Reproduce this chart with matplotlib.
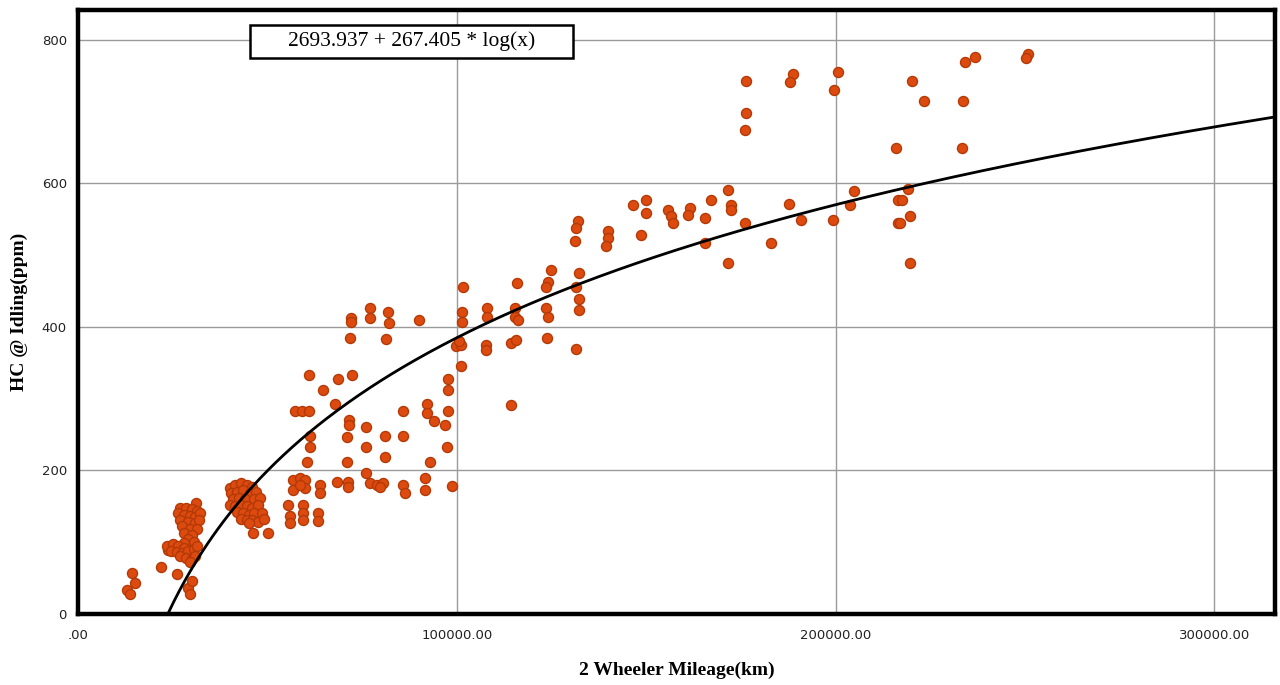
import numpy as np
import matplotlib
matplotlib.use("Agg")
import matplotlib.pyplot as plt
from matplotlib.patches import Rectangle

# scatter data: mileage (km) and HC at idling (ppm)
mileage = [
    14200, 15000, 12800, 13700, 21900, 26000, 29000, 29500, 30000, 23800,
    # first cluster
    31100, 27000, 28500, 30000, 31500, 26500, 28000, 29500, 31000, 32300,
    27000, 29000, 31000, 32000, 27500, 29500, 31500, 28000, 30000, 29000,
    30500, 28000, 23500, 25000, 26500, 28000, 24500, 26000, 27500, 29000,
    30500, 31500, 27000, 28500, 30000, 31000, 29500,
    # second cluster
    40000, 41500, 43000, 44500, 46000, 40500, 42000, 43500, 45500, 47000,
    41000, 42500, 44000, 46500, 48000, 40000, 41500, 43000, 44500, 46000,
    47500, 42000, 43500, 45000, 46500, 48500, 43000, 44500, 46000, 47500,
    49000, 45000, 46200, 50100,
    # 55k - 100k
    55500, 55900, 55900, 59400, 59400, 59400, 63400, 63400,
    56800, 56800, 58600, 59900, 59900, 58600, 63900, 63900,
    61000, 64700, 68500, 72400, 67800, 57300, 59000, 61000,
    71500, 71500, 71100, 61200, 61200, 60500, 71100,
    76100, 76100, 81000, 81000, 85800, 85800, 92000, 92000, 94000,
    97000, 97700, 97700, 97700, 97400, 92900, 101000,
    76100, 77000, 78800, 80500, 79700, 68300, 71300, 71300,
    85800, 86300, 91600, 91600, 98600,
    72000, 72000, 77000, 77000, 81700, 82100, 90000, 71800, 81300,
    101700, 101500, 101500, 99900, 101200, 100500,
    # 100k - 135k
    108100, 108100, 107800, 107800, 115900, 115300, 115300, 116200,
    114400, 115700, 114400, 125000, 124100, 123600, 123600, 124100,
    123800, 132200, 131600, 132200, 132200, 131600,
    # 130k - 180k
    132000, 131600, 131100, 139900, 139900, 139500, 146500, 149900,
    149900, 148500, 155700, 156600, 157100, 161500, 161000, 165400,
    167200, 171600, 172500, 172500, 176000, 165400, 171600,
    # upper right
    176300, 176300, 176000, 188700, 187900, 200600, 199700, 216000,
    187700, 183000, 190900, 199300, 204800, 203700, 216400, 216400,
    220200, 223300, 234300, 236900, 233600, 233400, 250700, 250300,
    219100, 217600, 219700, 217100, 219700,
]
hc_ppm = [
    57, 43, 33, 27, 65, 56, 36, 27, 45, 89,
    155, 147, 148, 146, 143, 140, 138, 136, 135, 140,
    130, 128, 126, 130, 122, 118, 118, 112, 110, 104,
    100, 98, 95, 97, 94, 92, 88, 86, 85, 88,
    90, 95, 80, 78, 76, 80, 72,
    175, 180, 182, 180, 177, 168, 170, 172, 168, 170,
    160, 162, 160, 160, 162, 152, 150, 152, 150, 148,
    152, 142, 140, 138, 140, 140, 132, 130, 130, 128,
    132, 126, 112, 112,
    152, 136, 126, 152, 140, 131, 140, 129,
    187, 173, 189, 187, 175, 180, 180, 168,
    333, 312, 327, 333, 293, 282, 282, 282,
    270, 263, 246, 248, 233, 212, 212,
    260, 232, 248, 219, 283, 248, 292, 280, 268,
    263, 327, 312, 283, 232, 212, 345,
    196, 182, 180, 182, 176, 184, 184, 177,
    180, 168, 189, 173, 178,
    412, 407, 426, 412, 421, 405, 410, 384, 383,
    456, 421, 407, 373, 375, 380,
    426, 414, 375, 368, 461, 426, 414, 410,
    377, 382, 291, 479, 463, 456, 426, 414,
    384, 475, 456, 438, 424, 369,
    547, 538, 519, 533, 524, 512, 570, 577,
    559, 528, 563, 554, 544, 565, 556, 552,
    577, 591, 570, 563, 544, 517, 489,
    743, 698, 674, 752, 741, 755, 730, 649,
    571, 517, 549, 549, 589, 570, 577, 544,
    742, 714, 769, 776, 715, 649, 780, 775,
    592, 577, 555, 544, 489,
]

# logarithmic fit shown in the box
fit_intercept = -2693.937
fit_slope = 267.405
fit_label = "2693.937 + 267.405 * log(x)"

x_ticks = [0, 100000, 200000, 300000]
x_tick_labels = [".00", "100000.00", "200000.00", "300000.00"]
y_ticks = [0, 200, 400, 600, 800]

fig = plt.figure(figsize=(12.8, 6.85), dpi=100)
ax = fig.add_axes([0.061, 0.104, 0.935, 0.882])

ax.scatter(mileage, hc_ppm, s=52, facecolor='#DD4A10', edgecolor='#B33A06',
           linewidth=1.0, zorder=3)

x0 = np.exp(-fit_intercept / fit_slope)
xs = np.linspace(x0, 316000, 400)
ax.plot(xs, fit_intercept + fit_slope * np.log(xs), color='black', lw=2.0, zorder=4)

ax.set_xlim(0, 316000)
ax.set_ylim(0, 842)
ax.set_xticks(x_ticks)
ax.set_xticklabels(x_tick_labels)
ax.set_yticks(y_ticks)
ax.grid(True, color='#9a9a9a', lw=1.0, zorder=0)
ax.set_axisbelow(True)
ax.tick_params(length=0, labelsize=9.5, colors='#222222')
ax.tick_params(axis='x', pad=11)
ax.tick_params(axis='y', pad=8)
for s in ax.spines.values():
    s.set_linewidth(3.2)
    s.set_color('black')

# equation box
ax.add_patch(Rectangle((0.1437, 0.9205), 0.2698, 0.0545, transform=ax.transAxes,
                       facecolor='white', edgecolor='black', lw=1.8, zorder=5))
ax.text(0.2786, 0.948, fit_label, transform=ax.transAxes, ha='center', va='center',
        fontsize=15.5, family='Liberation Serif', zorder=6)

ax.set_xlabel("2 Wheeler Mileage(km)", family='Liberation Serif', fontsize=14,
              fontweight='bold', labelpad=14)
ax.set_ylabel("HC @ Idling(ppm)", family='Liberation Serif', fontsize=14,
              fontweight='bold', labelpad=10)

fig.savefig("out.png", dpi=100, facecolor='white')
